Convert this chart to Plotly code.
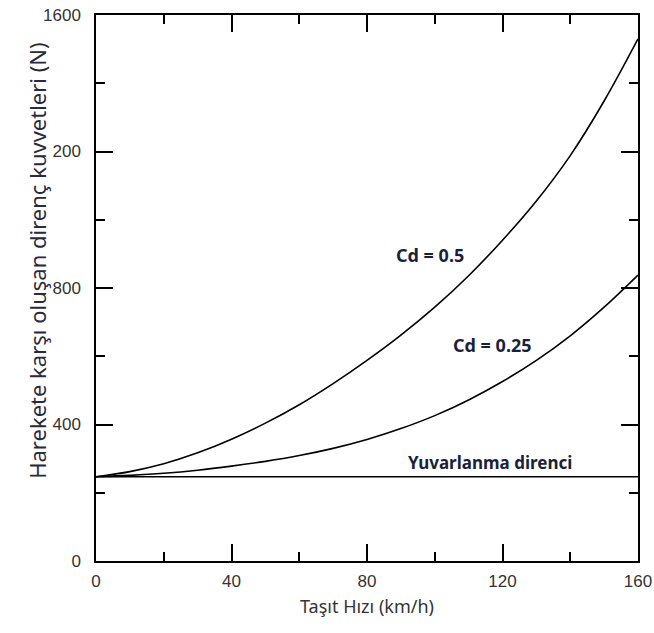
import plotly.graph_objects as go

speed = [0, 10, 20, 30, 40, 50, 60, 70, 80, 90, 100, 110, 120, 130, 140, 150, 160]
cd_050 = [247, 262, 285, 317, 357, 404, 458, 520, 588, 662, 744, 836, 940, 1055, 1188, 1348, 1530]
cd_025 = [247, 251, 257, 266, 278, 292, 309, 330, 356, 388, 426, 472, 526, 588, 660, 744, 838]
rolling = [247] * len(speed)

y_tickvals = [0, 400, 800, 1200, 1600]
y_ticktext = ["0", "400", "800", "200", "1600"]
x_tickvals = [0, 40, 80, 120, 160]

fig = go.Figure()
for ys in (cd_050, cd_025, rolling):
    fig.add_trace(go.Scatter(x=speed, y=ys, mode="lines", line=dict(color="black", width=1.6, shape="spline"),
                             showlegend=False, hoverinfo="skip"))

lab_font = dict(family="Noto Sans", size=18, color="#1b1f3a")
fig.add_annotation(x=98.6, y=897, text="<b>Cd = 0.5</b>", showarrow=False, font=lab_font)
fig.add_annotation(x=117, y=633, text="<b>Cd = 0.25</b>", showarrow=False, font=lab_font)
fig.add_annotation(x=116.3, y=290, text="<b>Yuvarlanma direnci</b>", showarrow=False,
                   font=dict(family="Noto Sans", size=17, color="#1b1f3a"))

fig.add_annotation(xref="paper", yref="paper", x=-0.14, y=0.55, textangle=-90,
                   text="Harekete karşı oluşan direnç kuvvetleri (N)", showarrow=False,
                   font=dict(family="Noto Sans", size=22, color="#2a2a3a"))

axis_common = dict(showline=True, linecolor="black", linewidth=1.5, mirror="ticks",
                   ticks="inside", ticklen=17, tickwidth=1.5, tickcolor="black",
                   showgrid=False, zeroline=False, automargin=False,
                   tickfont=dict(family="Liberation Sans", size=17, color="#333"))

fig.update_xaxes(range=[0, 160], tickvals=x_tickvals,
                 minor=dict(ticks="inside", ticklen=9, tickwidth=1.5, tickcolor="black", dtick=20, tick0=0),
                 title=dict(text="Taşıt Hızı (km/h)", font=dict(family="Noto Sans", size=18, color="#333"), standoff=10),
                 ticklabelstandoff=4, **axis_common)
fig.update_yaxes(range=[0, 1600], tickvals=y_tickvals, ticktext=y_ticktext,
                 minor=dict(ticks="inside", ticklen=9, tickwidth=1.5, tickcolor="black", dtick=200, tick0=0),
                 ticklabelstandoff=10, **axis_common)

fig.update_layout(width=654, height=633, margin=dict(l=96, r=16, t=15, b=72),
                  plot_bgcolor="white", paper_bgcolor="white")

fig.write_html("out.html")
